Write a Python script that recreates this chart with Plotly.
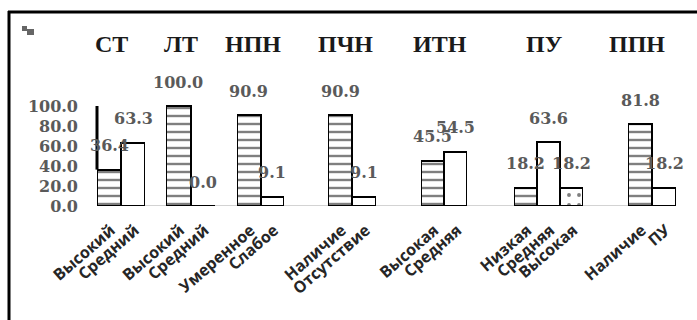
import plotly.graph_objects as go

# ---- data ----
groups = ["СТ", "ЛТ", "НПН", "ПЧН", "ИТН", "ПУ", "ППН"]
categories = [
    ["Высокий", "Средний"],
    ["Высокий", "Средний"],
    ["Умеренное", "Слабое"],
    ["Наличие", "Отсутствие"],
    ["Высокая", "Средняя"],
    ["Низкая", "Средняя", "Высокая"],
    ["Наличие", "ПУ"],
]
values = [
    [36.4, 63.3],
    [100.0, 0.0],
    [90.9, 9.1],
    [90.9, 9.1],
    [45.5, 54.5],
    [18.2, 63.6, 18.2],
    [81.8, 18.2],
]
y_ticks = [0, 20, 40, 60, 80, 100]

# ---- layout geometry (pixels) ----
W, H = 697, 320
group_left = [97, 166, 237, 328, 421, 514, 628]
group_right = [145, 215, 284, 376, 467, 583, 676]
title_center = [112, 181, 253, 345, 440, 544, 637]
plot_top_px, plot_bottom_px = 40, 206
y_max = plot_bottom_px - plot_top_px  # 1 unit per pixel

def px_x(p):
    return p / W

def px_y(p):
    return (H - p) / H

num_font = dict(family="DejaVu Serif", size=16, color="#5a5a5a", weight="bold")
title_font = dict(family="Liberation Serif", size=24, color="#1a1a1a", weight="bold")
cat_font = dict(family="Open Sans", size=16, color="#262626", weight="bold")

bar_styles = [
    dict(shape="-", size=8, solidity=0.3),
    dict(shape="", size=8, solidity=0.3),
    dict(shape=".", size=10, solidity=0.12),
]

fig = go.Figure()
annotations = []
shapes = []

for i, (g, cats, vals) in enumerate(zip(groups, categories, values)):
    xa = "x" if i == 0 else f"x{i + 1}"
    n = len(vals)
    fig.add_trace(go.Bar(
        x=cats,
        y=vals,
        width=1,
        xaxis=xa,
        yaxis="y",
        marker=dict(
            color="white",
            line=dict(color="black", width=2),
            pattern=dict(
                shape=[bar_styles[k]["shape"] for k in range(n)],
                size=[bar_styles[k]["size"] for k in range(n)],
                solidity=[bar_styles[k]["solidity"] for k in range(n)],
                fgcolor="black",
                bgcolor="white",
            ),
        ),
        showlegend=False,
        hoverinfo="skip",
    ))
    layout_key = "xaxis" if i == 0 else f"xaxis{i + 1}"
    fig.layout[layout_key] = dict(
        domain=[px_x(group_left[i]), px_x(group_right[i])],
        anchor="y",
        type="category",
        tickmode="array",
        tickvals=cats,
        ticktext=cats,
        range=[-0.5, n - 0.5],
        showgrid=False,
        zeroline=False,
        showline=False,
        ticks="",
        tickangle=-41,
        tickfont=cat_font,
        ticklabelstandoff=11,
        ticklabelshift=2,
        automargin=False,
    )
    # value labels above each bar
    for c, v in zip(cats, vals):
        annotations.append(dict(
            x=c, y=v, xref=xa, yref="y", text=f"{v:.1f}",
            showarrow=False, yshift=24, font=num_font,
        ))
    # group title
    annotations.append(dict(
        x=px_x(title_center[i]), y=px_y(44), xref="paper", yref="paper",
        text=g, showarrow=False, font=title_font,
        xanchor="center", yanchor="middle",
    ))

# continuous light baseline under all groups
shapes.append(dict(
    type="line", xref="paper", yref="y",
    x0=px_x(group_left[0]), x1=px_x(group_right[-1]), y0=0, y1=0,
    line=dict(color="#d3d3d3", width=2), layer="below",
))
# dark vertical stroke at the left of the first group
shapes.append(dict(
    type="line", xref="x domain", yref="y",
    x0=0, x1=0, y0=values[0][0], y1=y_ticks[-1],
    line=dict(color="black", width=3),
))
# outer frame (top and left edges)
shapes.append(dict(
    type="line", xref="paper", yref="paper",
    x0=px_x(8), x1=1, y0=px_y(12), y1=px_y(12),
    line=dict(color="black", width=3),
))
shapes.append(dict(
    type="line", xref="paper", yref="paper",
    x0=px_x(9), x1=px_x(9), y0=px_y(11), y1=0,
    line=dict(color="black", width=3),
))
# small mark in the top-left corner
for (a, b, c, d) in [(22, 26, 27, 31), (27, 29, 34, 35)]:
    shapes.append(dict(
        type="rect", xref="paper", yref="paper",
        x0=px_x(a), x1=px_x(c), y0=px_y(d), y1=px_y(b),
        fillcolor="#666666", line=dict(width=0),
    ))

fig.update_layout(
    width=W, height=H,
    margin=dict(l=0, r=0, t=0, b=0, autoexpand=False),
    paper_bgcolor="white",
    plot_bgcolor="rgba(0,0,0,0)",
    barmode="overlay",
    bargap=0,
    yaxis=dict(
        domain=[px_y(plot_bottom_px), px_y(plot_top_px)],
        range=[0, y_max],
        anchor="x",
        tickmode="array",
        tickvals=y_ticks,
        ticktext=[f"{t:.1f}" for t in y_ticks],
        tickfont=num_font,
        showgrid=False,
        zeroline=False,
        showline=False,
        ticks="",
        ticklabelstandoff=18,
        automargin=False,
    ),
    annotations=annotations,
    shapes=shapes,
)

fig.write_html("out.html")
